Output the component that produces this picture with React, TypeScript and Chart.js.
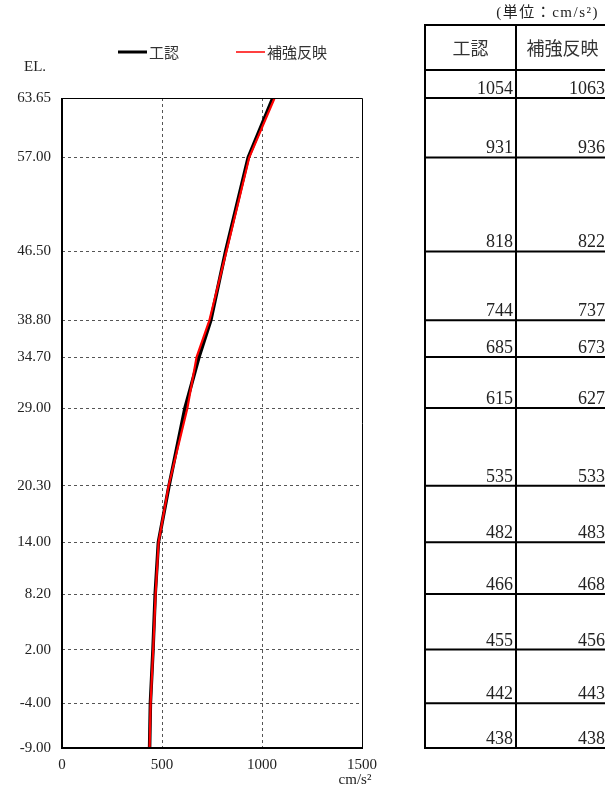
import React, { useEffect, useRef } from "react";
import { Chart, registerables } from "chart.js";

Chart.register(...registerables);

const ELEVATIONS = [63.65, 57.0, 46.5, 38.8, 34.7, 29.0, 20.3, 14.0, 8.2, 2.0, -4.0, -9.0];
const KOUNIN = [1054, 931, 818, 744, 685, 615, 535, 482, 466, 455, 442, 438];
const HOKYO = [1063, 936, 822, 737, 673, 627, 533, 483, 468, 456, 443, 438];
const X_TICKS = [0, 500, 1000, 1500];
const SERIES_LABELS = ["工認", "補強反映"];
const SERIES_COLORS = ["#000000", "#ff0000"];
const Y_TITLE = "EL.";
const X_UNIT = "cm/s²";
const TABLE_UNIT = "(単位：cm/s²)";

const SERIF = "'Liberation Serif', 'DejaVu Serif', serif";
const CJK = "'Noto Sans CJK JP', 'Noto Sans', sans-serif";

const decorPlugin = {
  id: "decor",
  afterDatasetsDraw(chart: any) {
    const ctx = chart.ctx;
    const a = chart.chartArea;
    const ys = chart.scales.y;
    ctx.save();
    // frame
    ctx.strokeStyle = "#000";
    ctx.lineWidth = 1;
    ctx.beginPath();
    ctx.moveTo(a.left, a.top + 0.5);
    ctx.lineTo(a.right + 0.5, a.top + 0.5);
    ctx.lineTo(a.right + 0.5, a.bottom);
    ctx.stroke();
    ctx.lineWidth = 2;
    ctx.beginPath();
    ctx.moveTo(a.left, a.top);
    ctx.lineTo(a.left, a.bottom);
    ctx.lineTo(a.right + 1, a.bottom);
    ctx.stroke();

    // axis titles
    ctx.fillStyle = "#222";
    ctx.font = `15px ${SERIF}`;
    ctx.textAlign = "left";
    ctx.textBaseline = "middle";
    ctx.fillText(Y_TITLE, 24, 67);
    ctx.textAlign = "center";
    ctx.fillText(X_UNIT, a.right - 7, 780);

    // legend
    const legendX = [118, 236];
    const legendW = [3, 1.5];
    chart.data.datasets.forEach((ds: any, i: number) => {
      const x = legendX[i];
      ctx.strokeStyle = ds.borderColor;
      ctx.lineWidth = legendW[i];
      ctx.beginPath();
      ctx.moveTo(x, 52);
      ctx.lineTo(x + 29, 52);
      ctx.stroke();
      ctx.fillStyle = "#333";
      ctx.font = `15px ${CJK}`;
      ctx.textAlign = "left";
      ctx.textBaseline = "middle";
      ctx.fillText(ds.label, x + 31, 52);
    });

    // table
    const tl = 425, tm = 516, tr = 609, tt = 25, th = 70;
    const tb = ys.getPixelForValue(ELEVATIONS[ELEVATIONS.length - 1]);
    ctx.strokeStyle = "#000";
    ctx.lineWidth = 2;
    ctx.strokeRect(tl, tt, tr - tl, tb - tt);
    ctx.beginPath();
    ctx.moveTo(tm, tt);
    ctx.lineTo(tm, tb);
    ctx.moveTo(tl, th);
    ctx.lineTo(tr, th);
    ELEVATIONS.forEach((e) => {
      const y = ys.getPixelForValue(e);
      ctx.moveTo(tl, y);
      ctx.lineTo(tr, y);
    });
    ctx.stroke();

    ctx.fillStyle = "#333";
    ctx.font = `18px ${CJK}`;
    ctx.textAlign = "center";
    ctx.textBaseline = "middle";
    ctx.fillText(SERIES_LABELS[0], (tl + tm) / 2, 48);
    ctx.fillText(SERIES_LABELS[1], (tm + tr) / 2, 48);

    ctx.fillStyle = "#222";
    ctx.font = `18px ${SERIF}`;
    ctx.textAlign = "right";
    ctx.textBaseline = "alphabetic";
    ELEVATIONS.forEach((e, i) => {
      const y = ys.getPixelForValue(e);
      ctx.fillText(String(KOUNIN[i]), tm - 3, y - 4);
      ctx.fillText(String(HOKYO[i]), tr - 4, y - 4);
    });

    ctx.font = `15px ${SERIF}, ${CJK}`;
    ctx.textAlign = "right";
    ctx.textBaseline = "middle";
    try {
      ctx.letterSpacing = "1.5px";
    } catch (e) {}
    ctx.fillText(TABLE_UNIT, 599, 13);
    ctx.restore();
  },
};

export default function App() {
  const ref = useRef<HTMLCanvasElement>(null);
  useEffect(() => {
    if (!ref.current) return;
    const endpoints = [ELEVATIONS[0], ELEVATIONS[ELEVATIONS.length - 1]];
    const chart = new Chart(ref.current, {
      type: "line",
      data: {
        datasets: [
          {
            label: SERIES_LABELS[0],
            data: ELEVATIONS.map((e, i) => ({ x: KOUNIN[i], y: e })),
            borderColor: SERIES_COLORS[0],
            backgroundColor: SERIES_COLORS[0],
            borderWidth: 3.5,
            pointRadius: 0,
            tension: 0,
            order: 1,
          },
          {
            label: SERIES_LABELS[1],
            data: ELEVATIONS.map((e, i) => ({ x: HOKYO[i], y: e })),
            borderColor: SERIES_COLORS[1],
            backgroundColor: SERIES_COLORS[1],
            borderWidth: 2.2,
            pointRadius: 0,
            tension: 0,
            order: 0,
          },
        ],
      },
      options: {
        animation: false,
        responsive: false,
        devicePixelRatio: 1,
        layout: { padding: { top: 98, right: 243, left: 0, bottom: 0 } },
        plugins: { legend: { display: false }, tooltip: { enabled: false } },
        scales: {
          x: {
            type: "linear",
            min: 0,
            max: 1500,
            afterBuildTicks: (s: any) => {
              s.ticks = X_TICKS.map((v) => ({ value: v }));
            },
            afterFit: (s: any) => {
              s.height = 44;
            },
            ticks: {
              maxRotation: 0,
              padding: 8,
              color: "#222",
              font: { family: SERIF, size: 15 },
              callback: (v: any) => String(v),
            },
            grid: {
              drawTicks: false,
              color: (c: any) =>
                c.tick && (c.tick.value === 0 || c.tick.value === 1500) ? "rgba(0,0,0,0)" : "#555",
              lineWidth: 1,
              borderDash: [3, 3],
            },
            border: { display: false, dash: [3, 3] },
          },
          y: {
            type: "linear",
            min: -9,
            max: 63.65,
            afterBuildTicks: (s: any) => {
              s.ticks = ELEVATIONS.map((v) => ({ value: v }));
            },
            afterFit: (s: any) => {
              s.width = 62;
            },
            ticks: {
              padding: 11,
              color: "#222",
              font: { family: SERIF, size: 15 },
              callback: (v: any) => Number(v).toFixed(2),
            },
            grid: {
              drawTicks: false,
              color: (c: any) =>
                c.tick && endpoints.includes(c.tick.value) ? "rgba(0,0,0,0)" : "#555",
              lineWidth: 1,
              borderDash: [3, 3],
            },
            border: { display: false, dash: [3, 3] },
          },
        },
      },
      plugins: [decorPlugin],
    } as any);
    return () => chart.destroy();
  }, []);
  return (
    <div style={{ position: "absolute", left: 0, top: 0, width: 605, height: 792 }}>
      <canvas ref={ref} width={605} height={792} />
    </div>
  );
}
